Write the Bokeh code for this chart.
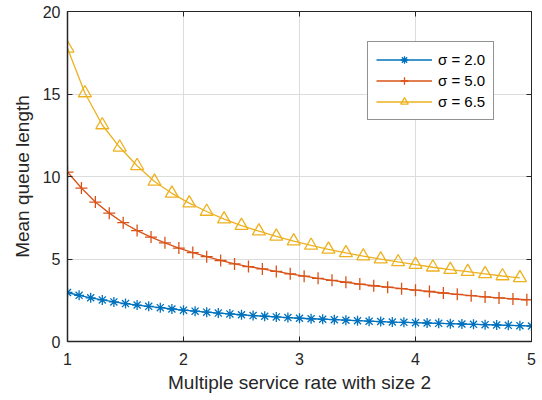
from bokeh.plotting import figure
from bokeh.models import LinearAxis, FixedTicker, Range1d, Legend, LegendItem
from bokeh.embed import file_html
from bokeh.resources import INLINE

# ---- data ----
x_s2 = [round(1 + 0.1 * i, 2) for i in range(41)]
y_s2 = [2.97, 2.80, 2.65, 2.52, 2.40, 2.30, 2.21, 2.13, 2.05, 1.97,
        1.90, 1.84, 1.78, 1.72, 1.67, 1.62, 1.57, 1.53, 1.49, 1.45,
        1.41, 1.38, 1.35, 1.32, 1.29, 1.26, 1.23, 1.21, 1.18, 1.16,
        1.14, 1.12, 1.10, 1.08, 1.06, 1.04, 1.02, 1.00, 0.98, 0.96, 0.94]

x_s5 = [round(1 + 0.12 * i, 2) for i in range(34)]
y_s5 = [10.27, 9.30, 8.45, 7.78, 7.20, 6.72, 6.33, 5.98, 5.66, 5.39,
        5.14, 4.91, 4.70, 4.54, 4.40, 4.25, 4.10, 3.96, 3.83, 3.71,
        3.59, 3.48, 3.38, 3.29, 3.20, 3.11, 3.03, 2.94, 2.86, 2.78,
        2.70, 2.64, 2.58, 2.53]

x_s65 = [round(1 + 0.15 * i, 2) for i in range(27)]
y_s65 = [17.77, 15.06, 13.12, 11.77, 10.65, 9.70, 8.98, 8.39, 7.88, 7.42,
         7.02, 6.69, 6.37, 6.08, 5.82, 5.58, 5.37, 5.17, 4.99, 4.82,
         4.66, 4.50, 4.36, 4.23, 4.10, 3.97, 3.86]

labels = ["σ = 2.0", "σ = 5.0", "σ = 6.5"]
colors = ["#0072BD", "#D95319", "#EDB120"]

x_ticks = [1, 2, 3, 4, 5]
y_ticks = [0, 5, 10, 15, 20]

FONT = "Liberation Sans"
TXT = "#262626"

p = figure(frame_width=464, frame_height=330,
           min_border_left=67, min_border_right=11,
           min_border_top=11, min_border_bottom=59,
           x_range=Range1d(1, 5), y_range=Range1d(0, 20),
           output_backend="svg", toolbar_location=None,
           x_axis_label="Multiple service rate with size 2",
           y_axis_label="Mean queue length")

p.outline_line_color = TXT
p.outline_line_width = 1
p.background_fill_color = "white"
p.border_fill_color = "white"

for ax, ticks in ((p.xaxis[0], x_ticks), (p.yaxis[0], y_ticks)):
    ax.ticker = FixedTicker(ticks=ticks)
    ax.major_tick_in = 5
    ax.major_tick_out = 0
    ax.minor_tick_line_color = None
    ax.axis_line_color = TXT
    ax.axis_line_width = 1.5
    ax.major_tick_line_color = TXT
    ax.major_label_text_font = FONT
    ax.major_label_text_font_size = "16px"
    ax.major_label_text_color = TXT
    ax.axis_label_text_font = FONT
    ax.axis_label_text_font_size = "19px"
    ax.axis_label_text_font_style = "normal"
    ax.axis_label_text_color = TXT

p.xaxis[0].major_label_standoff = 11
p.xaxis[0].axis_label_standoff = 4
p.yaxis[0].major_label_standoff = 7
p.yaxis[0].axis_label_standoff = 7

# mirrored axes (top / right) with inward ticks, no labels
for loc, ticks in (("above", x_ticks), ("right", y_ticks)):
    a = LinearAxis(ticker=FixedTicker(ticks=ticks))
    a.major_tick_in = 5
    a.major_tick_out = 0
    a.minor_tick_line_color = None
    a.axis_line_color = TXT
    a.major_tick_line_color = TXT
    a.major_label_overrides = {t: "" for t in ticks}
    a.major_label_standoff = 0
    p.add_layout(a, loc)

for g in (p.xgrid[0], p.ygrid[0]):
    g.grid_line_color = "#DCDCDC"
    g.grid_line_width = 1

p.xgrid[0].ticker = FixedTicker(ticks=x_ticks)
p.ygrid[0].ticker = FixedTicker(ticks=y_ticks)

items = []
series = [(x_s2, y_s2, "asterisk", 10), (x_s5, y_s5, "cross", 12), (x_s65, y_s65, "triangle", 13)]
for (xs, ys, mk, sz), lab, col in zip(series, labels, colors):
    r1 = p.line(xs, ys, line_color=col, line_width=1.3)
    r2 = p.scatter(xs, ys, marker=mk, size=sz, line_color=col, fill_color=None, line_width=1.3)
    items.append(LegendItem(label=lab, renderers=[r1, r2]))

legend = Legend(items=items, location=(300, 221))
legend.border_line_color = TXT
legend.border_line_width = 1
legend.background_fill_color = "white"
legend.background_fill_alpha = 1
legend.label_text_font = FONT
legend.label_text_font_size = "15px"
legend.label_text_color = "#000000"
legend.glyph_width = 56
legend.glyph_height = 19
legend.label_height = 19
legend.spacing = 2
legend.padding = 8
legend.margin = 0
legend.label_standoff = 6
p.add_layout(legend, "center")

open("out.html", "w").write(file_html(p, INLINE))
